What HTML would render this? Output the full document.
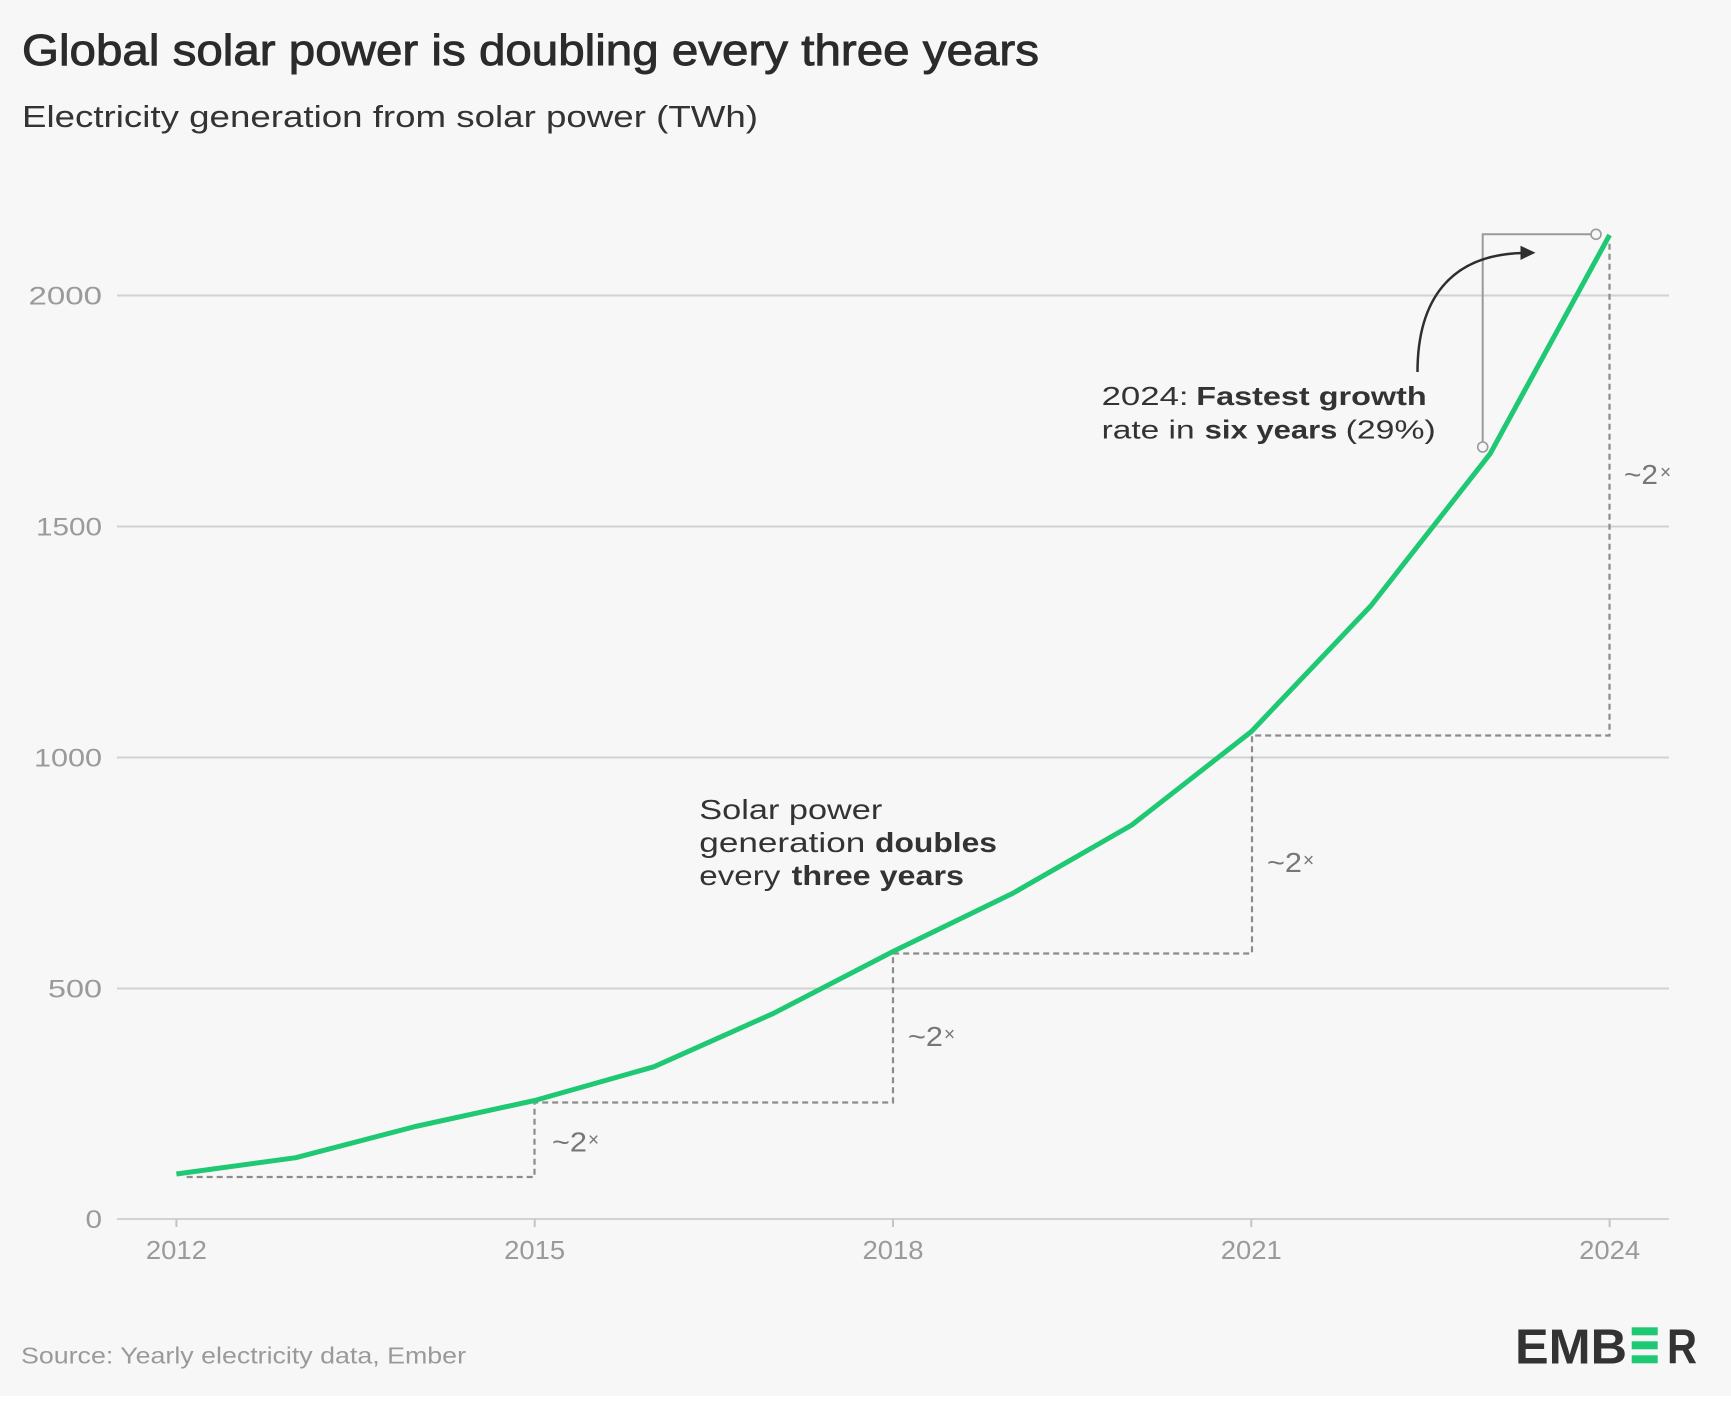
<!DOCTYPE html>
<html>
<head>
<meta charset="utf-8">
<style>
  html, body { margin: 0; padding: 0; background: #f7f7f7; }
  body { width: 1731px; height: 1406px; overflow: hidden; }
  svg { display: block; }
  text { font-family: "Liberation Sans", "DejaVu Sans", sans-serif; }
</style>
</head>
<body>
<svg width="1731" height="1406" viewBox="0 0 1731 1406" xmlns="http://www.w3.org/2000/svg">
  <rect x="0" y="0" width="1731" height="1406" fill="#f7f7f7"/>
  <rect x="0" y="1396" width="1731" height="10" fill="#ffffff"/>

  <!-- Title & subtitle -->
  <text x="22" y="65" font-size="44" fill="#2b2b2b" stroke="#2b2b2b" stroke-width="0.9" textLength="1017" lengthAdjust="spacingAndGlyphs">Global solar power is doubling every three years</text>
  <text x="22" y="127" font-size="31" fill="#333333" textLength="736" lengthAdjust="spacingAndGlyphs">Electricity generation from solar power (TWh)</text>

  <!-- Gridlines -->
  <g stroke="#d2d2d2" stroke-width="2">
    <line x1="117" y1="295.5" x2="1669" y2="295.5"/>
    <line x1="117" y1="526.5" x2="1669" y2="526.5"/>
    <line x1="117" y1="757.5" x2="1669" y2="757.5"/>
    <line x1="117" y1="988.5" x2="1669" y2="988.5"/>
    <line x1="117" y1="1219" x2="1669" y2="1219"/>
  </g>
  <!-- x ticks -->
  <g stroke="#c4c4c4" stroke-width="2">
    <line x1="176.4" y1="1219" x2="176.4" y2="1227"/>
    <line x1="534.7" y1="1219" x2="534.7" y2="1227"/>
    <line x1="893" y1="1219" x2="893" y2="1227"/>
    <line x1="1251.3" y1="1219" x2="1251.3" y2="1227"/>
    <line x1="1609.6" y1="1219" x2="1609.6" y2="1227"/>
  </g>

  <!-- Y labels -->
  <g font-size="25" fill="#9a9a9a" text-anchor="end">
    <text x="102" y="304.5" textLength="73.5" lengthAdjust="spacingAndGlyphs">2000</text>
    <text x="102" y="535.5" textLength="66" lengthAdjust="spacingAndGlyphs">1500</text>
    <text x="102" y="766.5" textLength="68" lengthAdjust="spacingAndGlyphs">1000</text>
    <text x="102" y="997.5" textLength="54" lengthAdjust="spacingAndGlyphs">500</text>
    <text x="102" y="1228" textLength="16.5" lengthAdjust="spacingAndGlyphs">0</text>
  </g>

  <!-- X labels -->
  <g font-size="26" fill="#9a9a9a" text-anchor="middle">
    <text x="176.4" y="1259" textLength="61" lengthAdjust="spacingAndGlyphs">2012</text>
    <text x="534.7" y="1259" textLength="61" lengthAdjust="spacingAndGlyphs">2015</text>
    <text x="893" y="1259" textLength="61" lengthAdjust="spacingAndGlyphs">2018</text>
    <text x="1251.3" y="1259" textLength="61" lengthAdjust="spacingAndGlyphs">2021</text>
    <text x="1609.6" y="1259" textLength="61" lengthAdjust="spacingAndGlyphs">2024</text>
  </g>

  <!-- Dashed doubling steps -->
  <path d="M186.7,1177 H534.5 V1102.5 H893 V953.5 H1252 V735.5 H1609.5 V241" fill="none" stroke="#8c8c8c" stroke-width="2.2" stroke-dasharray="6 4"/>

  <!-- ~2x labels -->
  <g fill="#777777">
    <text x="552" y="1151.5" font-size="28" textLength="35" lengthAdjust="spacingAndGlyphs">~2</text>
    <text x="588" y="1146" font-size="19">×</text>
    <text x="908" y="1046" font-size="28" textLength="35" lengthAdjust="spacingAndGlyphs">~2</text>
    <text x="944" y="1040.5" font-size="19">×</text>
    <text x="1267" y="872" font-size="28" textLength="35" lengthAdjust="spacingAndGlyphs">~2</text>
    <text x="1303" y="866.5" font-size="19">×</text>
    <text x="1624" y="484" font-size="28" textLength="34" lengthAdjust="spacingAndGlyphs">~2</text>
    <text x="1660" y="478.5" font-size="19">×</text>
  </g>

  <!-- Green series line -->
  <polyline fill="none" stroke="#1fc872" stroke-width="5" stroke-linejoin="round" stroke-linecap="butt"
    points="176.4,1174 295.8,1157.7 415.3,1126.5 534.7,1100.5 654.1,1066.7 773.6,1013.3 893,951.5 1012.4,893.5 1131.8,825 1251.3,731.6 1370.7,606 1490.1,453.8 1609.6,235"/>

  <!-- Annotation connector -->
  <path d="M1482.7,442 V234.3 H1591" fill="none" stroke="#9a9a9a" stroke-width="2"/>
  <circle cx="1482.7" cy="447" r="5" fill="#f7f7f7" stroke="#9a9a9a" stroke-width="1.6"/>
  <circle cx="1596" cy="234.3" r="5" fill="#f7f7f7" stroke="#9a9a9a" stroke-width="1.6"/>

  <!-- Curved arrow -->
  <path d="M1417.5,372 C1417.5,300 1450,255 1522,253" fill="none" stroke="#2e2e2e" stroke-width="2.5"/>
  <polygon points="1535.5,252.7 1520.5,245.8 1520.5,260" fill="#2e2e2e"/>

  <!-- Top annotation text -->
  <g font-size="26" fill="#333333">
    <text x="1101.6" y="405" textLength="87" lengthAdjust="spacingAndGlyphs">2024:</text>
    <text x="1196.3" y="405" font-weight="bold" textLength="230.4" lengthAdjust="spacingAndGlyphs">Fastest growth</text>
    <text x="1101.6" y="438.5" textLength="93" lengthAdjust="spacingAndGlyphs">rate in</text>
    <text x="1204.6" y="438.5" font-weight="bold" textLength="132.8" lengthAdjust="spacingAndGlyphs">six years</text>
    <text x="1345.7" y="438.5" textLength="90" lengthAdjust="spacingAndGlyphs">(29%)</text>
  </g>

  <!-- Middle annotation text -->
  <g font-size="28" fill="#333333">
    <text x="699.3" y="819" textLength="183" lengthAdjust="spacingAndGlyphs">Solar power</text>
    <text x="699.3" y="852" textLength="166" lengthAdjust="spacingAndGlyphs">generation</text>
    <text x="875" y="852" font-weight="bold" textLength="122" lengthAdjust="spacingAndGlyphs">doubles</text>
    <text x="699.3" y="885" textLength="81" lengthAdjust="spacingAndGlyphs">every</text>
    <text x="791.7" y="885" font-weight="bold" textLength="172.3" lengthAdjust="spacingAndGlyphs">three years</text>
  </g>

  <!-- Source -->
  <text x="21" y="1363.3" font-size="23" fill="#9a9a9a" textLength="445" lengthAdjust="spacingAndGlyphs">Source: Yearly electricity data, Ember</text>

  <!-- EMBER logo -->
  <g fill="#333333" font-weight="bold" font-size="49.5">
    <text x="1515" y="1363.3" textLength="112" lengthAdjust="spacingAndGlyphs">EMB</text>
    <text x="1667" y="1363.3" textLength="30" lengthAdjust="spacingAndGlyphs">R</text>
  </g>
  <g fill="#1fc872">
    <rect x="1631.7" y="1327.3" width="26" height="8"/>
    <rect x="1631.7" y="1341.3" width="26" height="8"/>
    <rect x="1631.7" y="1355.3" width="26" height="8"/>
  </g>
</svg>
</body>
</html>
